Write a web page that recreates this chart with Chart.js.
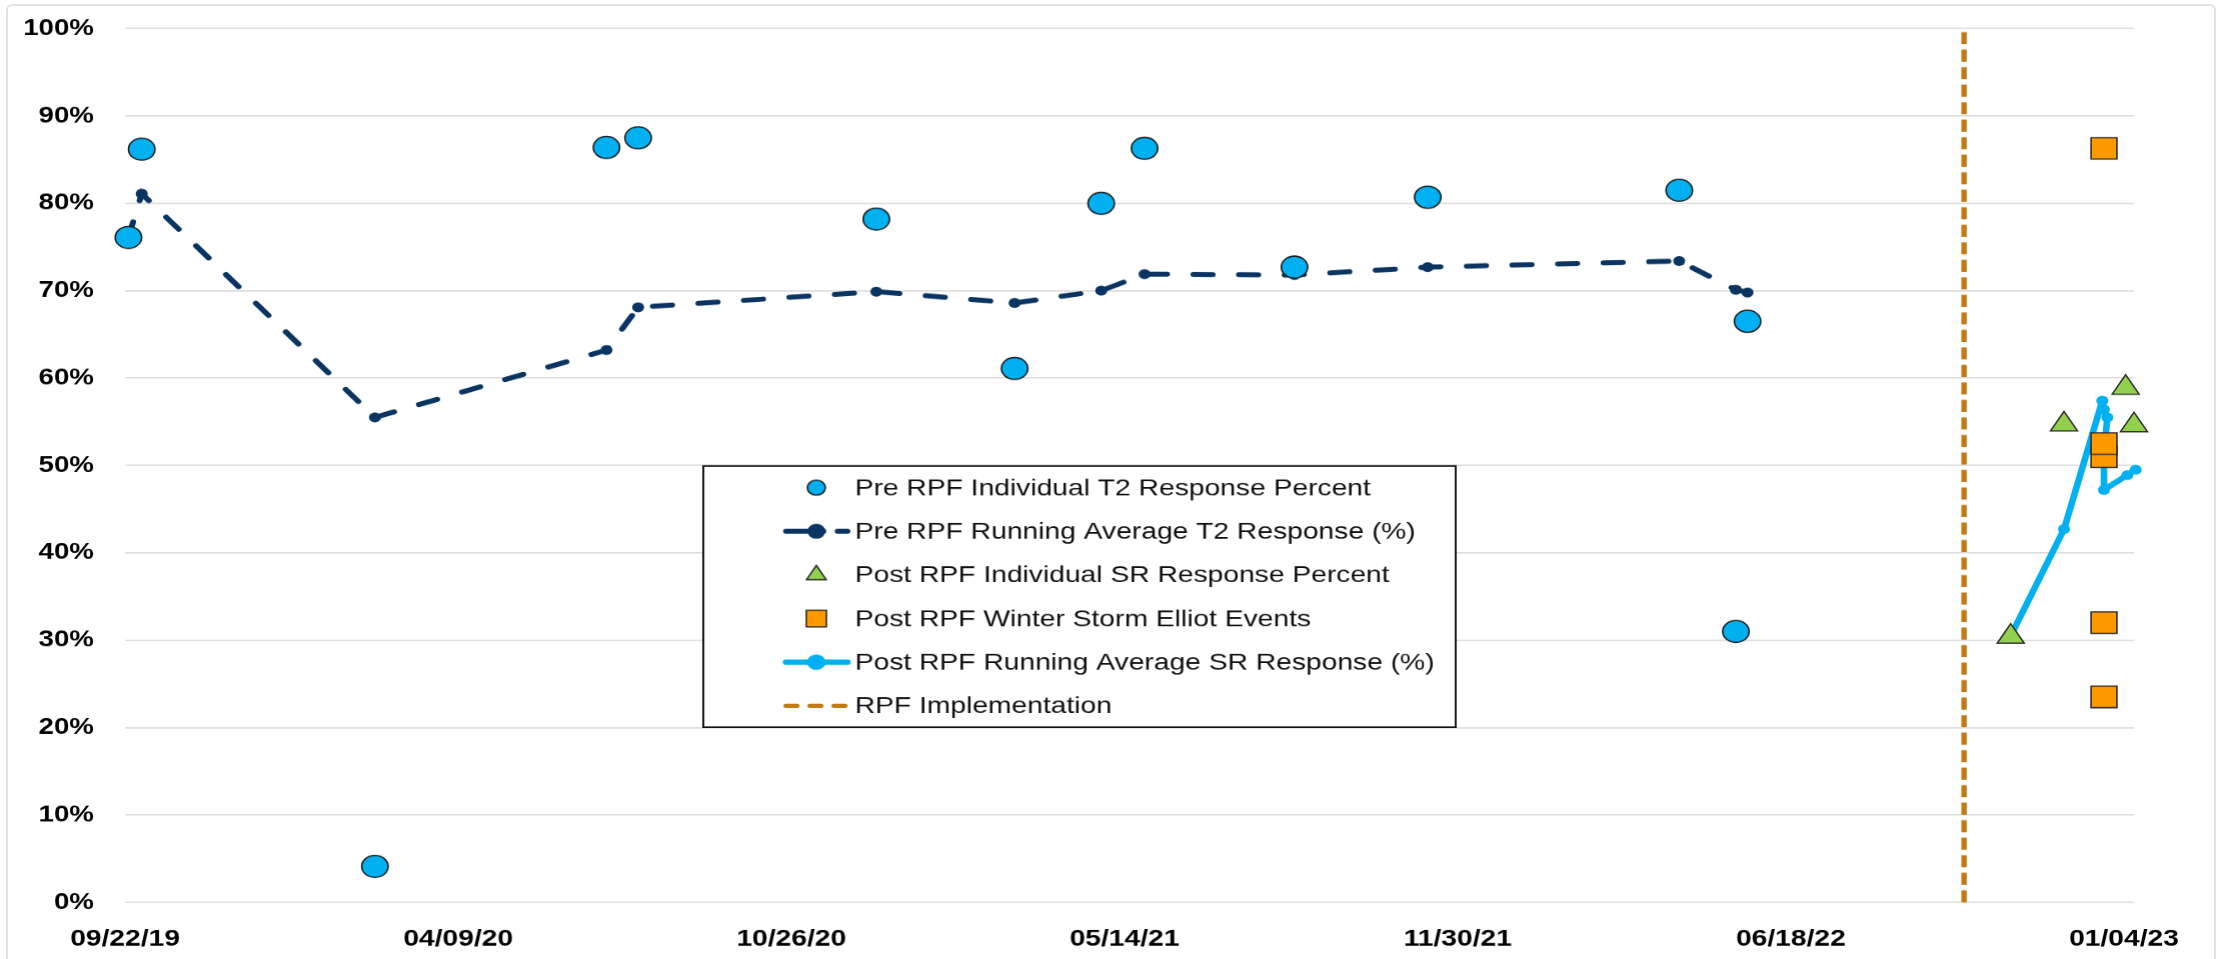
<!DOCTYPE html>
<html>
<head>
<meta charset="utf-8">
<title>RPF Response</title>
<script src="https://cdn.jsdelivr.net/npm/chart.js"></script>
<style>
  html, body { margin: 0; padding: 0; background: #fff; }
  body { width: 2219px; height: 959px; overflow: hidden; position: relative; }
  #frame {
    position: absolute; left: 6px; top: 4px; width: 2210px; height: 1000px;
    border: 2px solid #e2e2e2; border-radius: 6px; box-sizing: border-box;
  }
  /* the source picture is stretched sideways, so the chart is too */
  #wrap {
    position: absolute; left: 0; top: 0; width: 1849px; height: 959px;
    transform: scaleX(1.2001); transform-origin: 0 0;
  }
</style>
</head>
<body>
<div id="frame"></div>
<div id="wrap"><canvas id="chart" width="1849" height="959"></canvas></div>
<script>
// x axis
const xTickLabels = ["09/22/19", "04/09/20", "10/26/20", "05/14/21", "11/30/21", "06/18/22", "01/04/23"];
const xMin = "09/22/19";
const xMax = "01/10/23";

// pre RPF
const preDates = ["09/24/19", "10/02/19", "02/19/20", "07/07/20", "07/26/20", "12/16/20", "03/09/21",
                  "04/30/21", "05/26/21", "08/24/21", "11/12/21", "04/12/22", "05/16/22", "05/23/22"];
const preValues = [76.1, 86.2, 4.1, 86.4, 87.5, 78.2, 61.1, 80.0, 86.3, 72.7, 80.7, 81.5, 31.0, 66.5];
const preAvgValues = [76.1, 81.1, 55.5, 63.2, 68.1, 69.9, 68.6, 70.0, 71.9, 71.8, 72.7, 73.4, 70.1, 69.8];

// post RPF
const postDates = ["10/28/22", "11/29/22", "01/05/23", "01/10/23"];
const postValues = [30.4, 54.7, 58.9, 54.6];
const stormDates = ["12/23/22", "12/23/22", "12/23/22", "12/23/22", "12/23/22"];
const stormValues = [86.3, 51.0, 52.5, 32.0, 23.5];
const postAvgDates = ["10/28/22", "11/29/22", "12/22/22", "12/23/22", "12/25/22", "12/23/22", "12/23/22", "01/06/23", "01/11/23"];
const postAvgValues = [30.5, 42.7, 57.4, 56.4, 55.5, 51.3, 47.2, 48.9, 49.5];

const rpfDate = "09/30/22";

function toDay(s) {
  const [m, d, y] = s.split("/").map(Number);
  return Date.UTC(2000 + y, m - 1, d) / 86400000;
}
const pts = (dates, vals) => dates.map((d, i) => ({ x: toDay(d), y: vals[i] }));

function marker(ctx, style, x, y, r) {
  ctx.beginPath();
  if (style === "triangle") {
    for (let k = 0; k < 3; k++) {
      const a = k * 2 * Math.PI / 3;
      ctx.lineTo(x + Math.sin(a) * r, y - Math.cos(a) * r);
    }
    ctx.closePath();
  } else if (style === "rect") {
    const s = r * Math.SQRT1_2;
    ctx.rect(x - s, y - s, 2 * s, 2 * s);
  } else {
    ctx.arc(x, y, r, 0, 2 * Math.PI);
  }
  ctx.fill();
  ctx.stroke();
}

// legend box drawn inside the plot
const boxLegend = {
  id: "boxLegend",
  afterDraw(chart, args, o) {
    const ctx = chart.ctx;
    ctx.save();
    ctx.fillStyle = "#fff";
    ctx.fillRect(o.left, o.top, o.width, o.height);
    ctx.strokeStyle = "#111";
    ctx.lineWidth = 1.6;
    ctx.strokeRect(o.left, o.top, o.width, o.height);
    ctx.font = o.font;
    ctx.textBaseline = "middle";
    chart.data.datasets.forEach((ds, i) => {
      const y = o.firstRow + i * o.rowGap;
      if (ds.showLine) {
        ctx.beginPath();
        ctx.strokeStyle = ds.borderColor;
        ctx.lineWidth = ds.borderWidth;
        ctx.lineCap = "round";
        ctx.setLineDash(ds.legendDash || []);
        ctx.moveTo(o.lineFrom, y);
        ctx.lineTo(o.lineTo, y);
        ctx.stroke();
        ctx.setLineDash([]);
      }
      if (ds.pointRadius > 0) {
        ctx.fillStyle = ds.pointBackgroundColor;
        ctx.strokeStyle = ds.pointBorderColor;
        ctx.lineWidth = ds.pointBorderWidth;
        marker(ctx, ds.pointStyle, o.symbolX, y, ds.legendRadius);
      }
      ctx.fillStyle = "#111";
      ctx.fillText(ds.label, o.textX, y + 1);
    });
    ctx.restore();
  }
};

new Chart(document.getElementById("chart"), {
  type: "scatter",
  data: {
    datasets: [
      {
        label: "Pre RPF Individual T2 Response Percent",
        data: pts(preDates, preValues),
        pointStyle: "circle",
        pointRadius: 11,
        pointBackgroundColor: "#00B0F0",
        pointBorderColor: "#1b1b1b",
        pointBorderWidth: 1.3,
        legendRadius: 7.5,
        clip: false
      },
      {
        label: "Pre RPF Running Average T2 Response (%)",
        data: pts(preDates, preAvgValues),
        showLine: true,
        borderColor: "#0A3562",
        borderWidth: 5,
        borderDash: [16, 22],
        borderCapStyle: "round",
        legendDash: [31, 12],
        pointStyle: "circle",
        pointRadius: 5,
        pointBackgroundColor: "#0A3562",
        pointBorderColor: "#0A3562",
        pointBorderWidth: 0,
        legendRadius: 5,
        clip: false
      },
      {
        label: "Post RPF Individual SR Response Percent",
        data: pts(postDates, postValues),
        pointStyle: "triangle",
        pointRadius: 13,
        pointBackgroundColor: "#92D050",
        pointBorderColor: "#2b2b2b",
        pointBorderWidth: 1.3,
        legendRadius: 9.5,
        clip: false
      },
      {
        label: "Post RPF Winter Storm Elliot Events",
        data: pts(stormDates, stormValues),
        pointStyle: "rect",
        pointRadius: 15.2,
        pointBackgroundColor: "#FF9900",
        pointBorderColor: "#2b2b2b",
        pointBorderWidth: 1.3,
        legendRadius: 11.8,
        clip: false
      },
      {
        label: "Post RPF Running Average SR Response (%)",
        data: pts(postAvgDates, postAvgValues),
        showLine: true,
        borderColor: "#00B0F0",
        borderWidth: 5.5,
        borderCapStyle: "round",
        borderJoinStyle: "round",
        pointStyle: "circle",
        pointRadius: 5,
        pointBackgroundColor: "#00B0F0",
        pointBorderColor: "#00B0F0",
        pointBorderWidth: 0,
        legendRadius: 5,
        clip: false
      },
      {
        label: "RPF Implementation",
        data: [{ x: toDay(rpfDate), y: 0 }, { x: toDay(rpfDate), y: 100 }],
        showLine: true,
        borderColor: "#C47A14",
        borderWidth: 4.5,
        borderDash: [12, 5.5],
        legendDash: [9, 11],
        pointRadius: 0,
        clip: false
      }
    ]
  },
  options: {
    responsive: false,
    devicePixelRatio: 1.2,
    animation: false,
    layout: { padding: { left: 0, top: 28.6, right: 71.5, bottom: 0 } },
    plugins: {
      legend: { display: false },
      tooltip: { enabled: false },
      boxLegend: {
        left: 585.8, top: 465.7, width: 626.7, height: 261,
        firstRow: 487.3, rowGap: 43.6,
        lineFrom: 654.8, lineTo: 705.8, symbolX: 680, textX: 712,
        font: "23.5px 'Liberation Sans', Arial, sans-serif"
      }
    },
    scales: {
      x: {
        type: "linear",
        min: toDay(xMin),
        max: toDay(xMax),
        afterBuildTicks: (scale) => { scale.ticks = xTickLabels.map(l => ({ value: toDay(l) })); },
        afterFit: (scale) => { scale.height = 57.4; },
        grid: { display: false, drawTicks: false },
        border: { display: false },
        ticks: {
          autoSkip: false,
          maxRotation: 0,
          padding: 23,
          color: "#000",
          font: { family: "'Liberation Sans', Arial, sans-serif", size: 23.5, weight: "bold" },
          callback: (v, i) => xTickLabels[i]
        }
      },
      y: {
        min: 0,
        max: 100,
        afterFit: (scale) => {
          scale.width = 104.2;
          scale.paddingTop = 0;
          scale.paddingBottom = 0;
        },
        grid: { color: "#dcdcdc", lineWidth: 1.5, drawTicks: false },
        border: { display: false },
        ticks: {
          stepSize: 10,
          padding: 26,
          color: "#000",
          font: { family: "'Liberation Sans', Arial, sans-serif", size: 23, weight: "bold" },
          callback: (v) => v + "%"
        }
      }
    }
  },
  plugins: [boxLegend]
});
</script>
</body>
</html>
